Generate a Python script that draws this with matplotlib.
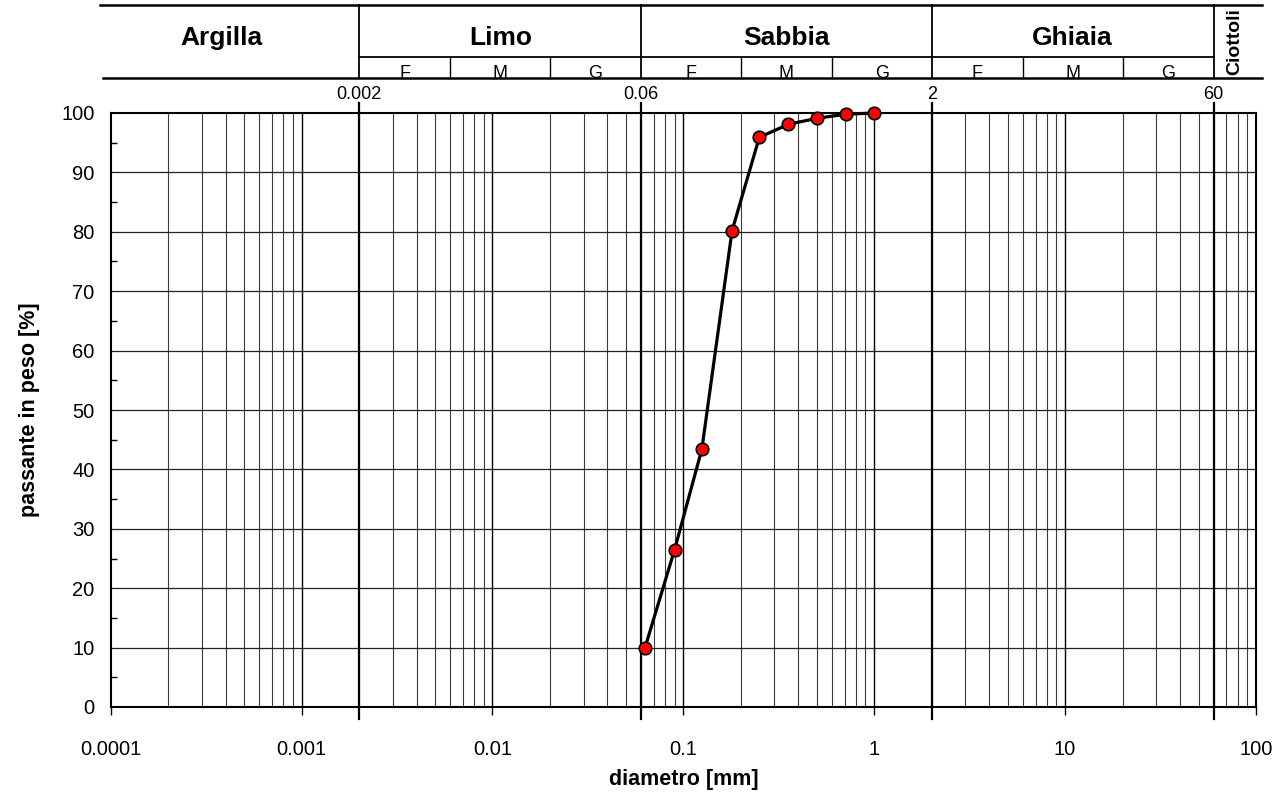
import matplotlib
matplotlib.use("Agg")
import matplotlib.pyplot as plt
import numpy as np
from matplotlib.ticker import FixedLocator, NullFormatter
import matplotlib.transforms as mtransforms

plt.rcParams['font.family'] = ['Liberation Sans', 'DejaVu Sans']

# grain size distribution (sieve diameters in mm, passing %)
diametro = [0.063, 0.09, 0.125, 0.18, 0.25, 0.355, 0.5, 0.71, 1.0]
passante = [10.0, 26.5, 43.4, 80.2, 95.9, 98.1, 99.1, 99.8, 100.0]

# class boundaries and header labels
limiti = [0.002, 0.06, 2, 60]
limiti_lab = ['0.002', '0.06', '2', '60']
sotto_limiti = [0.006, 0.02, 0.2, 0.6, 6, 20]
classi = ['Argilla', 'Limo', 'Sabbia', 'Ghiaia']
classi_x = [10**-3.42, 0.011, 0.346, 10.95]
sotto_lab = ['F', 'M', 'G']
x_ticks = [0.0001, 0.001, 0.01, 0.1, 1, 10, 100]
x_ticklab = ['0.0001', '0.001', '0.01', '0.1', '1', '10', '100']

W, H = 1285, 794
fig = plt.figure(figsize=(W / 100, H / 100), dpi=100)
left, right, top, bottom = 110.7, 1256, 113, 707
ax = fig.add_axes([left / W, 1 - bottom / H, (right - left) / W, (bottom - top) / H])

ax.set_xscale('log')
ax.set_xlim(1e-4, 100)
ax.set_ylim(0, 100)

# grid
minors = [m * 10.0**e for e in range(-4, 2) for m in range(2, 10)]
for v in minors:
    ax.axvline(v, color='#3a3a3a', lw=0.8, zorder=1)
for v in x_ticks[1:-1]:
    ax.axvline(v, color='black', lw=1.0, zorder=1)
for yv in range(10, 100, 10):
    ax.axhline(yv, color='#222222', lw=0.9, zorder=1)
for v, lab in zip(limiti, limiti_lab):
    ax.axvline(v, ymin=-0.02, ymax=1.017, color='black', lw=1.6, zorder=2, clip_on=False)
    ax.text(v, 101.7, lab, ha='center', va='bottom', fontsize=13)

ax.xaxis.set_major_locator(FixedLocator(x_ticks))
ax.set_xticklabels(x_ticklab)
ax.xaxis.set_minor_locator(FixedLocator([]))
ax.xaxis.set_minor_formatter(NullFormatter())
ax.tick_params(axis='x', which='major', direction='out', length=6, width=1, labelsize=14.5, pad=18)

ax.set_yticks(range(0, 101, 10))
ax.set_yticks(range(5, 100, 10), minor=True)
ax.tick_params(axis='y', which='major', direction='in', length=0, labelsize=14.5, pad=11.5)
ax.tick_params(axis='y', which='minor', direction='in', length=4, width=1)

for s in ax.spines.values():
    s.set_linewidth(1.5)

ax.plot(diametro, passante, color='black', lw=2.3, marker='o', markersize=9,
        markerfacecolor='#ff0000', markeredgecolor='black', markeredgewidth=1.2, zorder=5,
        clip_on=False)

ax.set_xlabel('diametro [mm]', fontsize=15.5, fontweight='bold', va='center')
ax.set_ylabel('passante in peso [%]', fontsize=15.5, fontweight='bold', va='center')
ax.xaxis.set_label_coords(0.5, (bottom - 780) / (bottom - top))
ax.yaxis.set_label_coords((30 - left) / (right - left), 0.5)

# header table
htop, hbot = 5, 78
hax = fig.add_axes([left / W, 1 - hbot / H, (right - left) / W, (hbot - htop) / H])
hax.set_xscale('log')
hax.set_xlim(1e-4, 100)
hax.set_ylim(0, 1)
hax.axis('off')
trans = mtransforms.blended_transform_factory(hax.transAxes, hax.transData)
x0 = (100 - left) / (right - left)
x1 = (1262 - left) / (right - left)
hax.plot([x0, x1], [1, 1], color='black', lw=1.8, transform=trans, clip_on=False)
hax.plot([x0 + 0.003, x1], [0, 0], color='black', lw=1.8, transform=trans, clip_on=False)
ymid = (hbot - 57) / (hbot - htop)
hax.plot([limiti[0], limiti[-1]], [ymid, ymid], color='black', lw=1.3, clip_on=False)
for v in limiti:
    hax.plot([v, v], [0, 1], color='black', lw=1.3, clip_on=False)
for v in sotto_limiti:
    hax.plot([v, v], [0, ymid], color='black', lw=1.0, clip_on=False)
for name, xc in zip(classi, classi_x):
    hax.text(xc, 0.55, name, ha='center', va='center', fontsize=19, fontweight='bold')
hax.text(10**1.89, 0.5, 'Ciottoli', ha='center', va='center', rotation=90,
         fontsize=14, fontweight='bold')
bordi = [0.002, 0.006, 0.02, 0.06, 0.2, 0.6, 2, 6, 20, 60]
for k in range(3):
    for j in range(3):
        a, b = bordi[3 * k + j], bordi[3 * k + j + 1]
        hax.text(np.sqrt(a * b), 0.18, sotto_lab[j], ha='center', va='top',
                 fontsize=13, clip_on=True)

fig.savefig('out.png', dpi=100)
